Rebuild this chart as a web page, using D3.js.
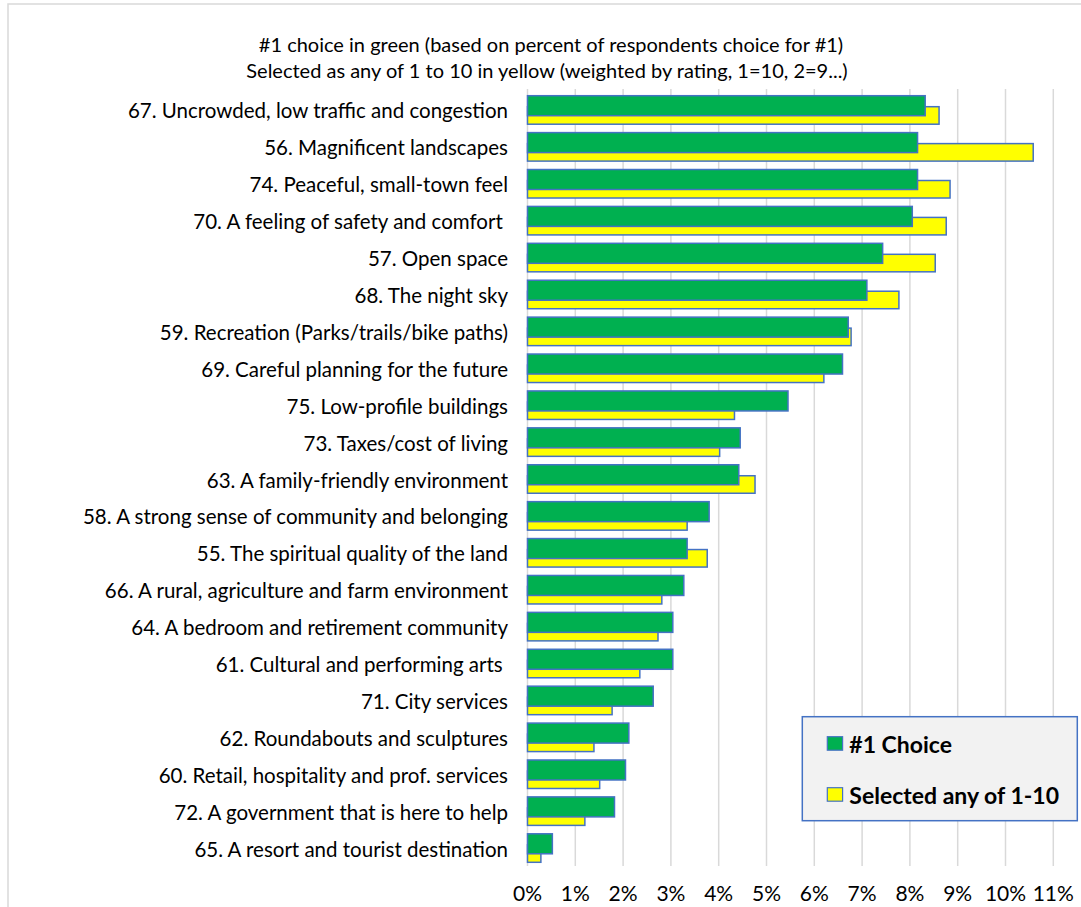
<!DOCTYPE html>
<html>
<head>
<meta charset="utf-8">
<script src="https://cdn.jsdelivr.net/npm/d3@7/dist/d3.min.js"></script>
<style>
  body { margin: 0; background: #fff; }
  svg { display: block; }
  text { font-family: Lato, "Open Sans", sans-serif; fill: #000; }
</style>
</head>
<body>
<svg id="chart" width="1081" height="907"></svg>
<script>
const categories = [
  "67. Uncrowded, low traffic and congestion",
  "56. Magnificent landscapes",
  "74. Peaceful, small-town feel",
  "70. A feeling of safety and comfort ",
  "57. Open space",
  "68. The night sky",
  "59. Recreation (Parks/trails/bike paths)",
  "69. Careful planning for the future",
  "75. Low-profile buildings",
  "73. Taxes/cost of living",
  "63. A family-friendly environment",
  "58. A strong sense of community and belonging",
  "55. The spiritual quality of the land",
  "66. A rural, agriculture and farm environment",
  "64. A bedroom and retirement community",
  "61. Cultural and performing arts ",
  "71. City services",
  "62. Roundabouts and sculptures",
  "60. Retail, hospitality and prof. services",
  "72. A government that is here to help",
  "65. A resort and tourist destination"
];
const firstChoice = [8.32, 8.16, 8.16, 8.05, 7.43, 7.10, 6.71, 6.59, 5.45, 4.45, 4.42, 3.80, 3.34, 3.27, 3.04, 3.04, 2.63, 2.12, 2.05, 1.82, 0.52];
const anyOf1to10 = [8.61, 10.58, 8.84, 8.76, 8.53, 7.77, 6.77, 6.20, 4.33, 4.02, 4.76, 3.34, 3.76, 2.81, 2.73, 2.35, 1.77, 1.39, 1.51, 1.20, 0.28];
const tickValues = [0,1,2,3,4,5,6,7,8,9,10,11];
const titleLines = [
  "#1 choice in green (based on percent of respondents choice for #1)",
  "Selected as any of 1 to 10 in yellow (weighted by rating, 1=10, 2=9...)"
];
const seriesNames = ["#1 Choice", "Selected any of 1-10"];
const seriesColors = ["#00B050", "#FFFF00"];

const svg = d3.select("#chart");

// chart area border
svg.append("rect").attr("x", 8).attr("y", 4).attr("width", 1100).attr("height", 940)
  .attr("fill", "#fff").attr("stroke", "#D9D9D9").attr("stroke-width", 1.5);

const x = d3.scaleLinear().domain([0, 11]).range([527.5, 527.5 + 11 * 47.8]);
const y = d3.scaleBand().domain(categories).range([89, 864]).paddingInner(0).paddingOuter(0);
const step = y.bandwidth();

// gridlines
svg.append("g").selectAll("line").data(tickValues).join("line")
  .attr("x1", d => x(d)).attr("x2", d => x(d))
  .attr("y1", 89).attr("y2", 866)
  .attr("stroke", "#D9D9D9").attr("stroke-width", 1.5);

// x tick labels
svg.append("g").selectAll("text").data(tickValues).join("text")
  .attr("x", d => x(d)).attr("y", 892)
  .attr("text-anchor", "middle").attr("dominant-baseline", "central")
  .attr("font-size", 21)
  .text(d => d + "%");

// yellow bars (behind)
svg.append("g").selectAll("rect").data(categories).join("rect")
  .attr("x", x(0))
  .attr("y", d => y(d) + 17.7)
  .attr("width", (d, i) => x(anyOf1to10[i]) - x(0))
  .attr("height", 17.5)
  .attr("fill", seriesColors[1]).attr("stroke", "#4472C4").attr("stroke-width", 1.5);

// green bars
svg.append("g").selectAll("rect").data(categories).join("rect")
  .attr("x", x(0))
  .attr("y", d => y(d) + 6.7)
  .attr("width", (d, i) => x(firstChoice[i]) - x(0))
  .attr("height", 20)
  .attr("fill", seriesColors[0]).attr("stroke", "#4472C4").attr("stroke-width", 1.5);

// category labels
svg.append("g").selectAll("text").data(categories).join("text")
  .attr("x", 508)
  .attr("y", d => y(d) + step / 2 + 3)
  .attr("text-anchor", "end").attr("dominant-baseline", "central")
  .attr("font-size", 20.5)
  .attr("xml:space", "preserve")
  .text(d => d);

// title
svg.append("g").selectAll("text").data(titleLines).join("text")
  .attr("x", (d, i) => i === 0 ? 551 : 547)
  .attr("y", (d, i) => 44 + i * 26)
  .attr("text-anchor", "middle").attr("dominant-baseline", "central")
  .attr("font-size", 20)
  .text(d => d);

// legend
const lg = svg.append("g");
lg.append("rect").attr("x", 802.3).attr("y", 716.7).attr("width", 275).attr("height", 104)
  .attr("fill", "#F2F2F2").attr("stroke", "#4472C4").attr("stroke-width", 1.5);
const items = lg.selectAll("g").data(seriesNames).join("g")
  .attr("transform", (d, i) => `translate(827.3, ${736.7 + i * 51})`);
items.append("rect").attr("width", 15.3).attr("height", 13.5)
  .attr("fill", (d, i) => seriesColors[i]).attr("stroke", "#4472C4").attr("stroke-width", 1.2);
items.append("text").attr("x", 22).attr("y", 7.5)
  .attr("dominant-baseline", "central")
  .attr("font-size", 23).attr("font-weight", "bold")
  .text(d => d);
</script>
</body>
</html>
